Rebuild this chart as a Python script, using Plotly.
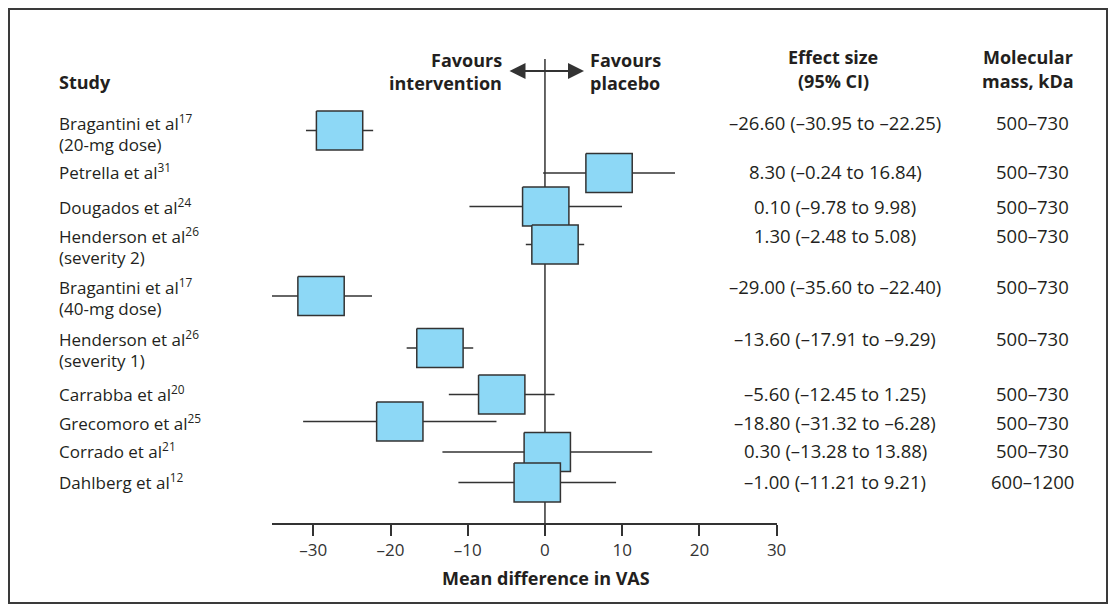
import plotly.graph_objects as go

# ---------------- data ----------------
studies = ["Bragantini et al", "Petrella et al", "Dougados et al", "Henderson et al",
           "Bragantini et al", "Henderson et al", "Carrabba et al", "Grecomoro et al",
           "Corrado et al", "Dahlberg et al"]
refs = ["17", "31", "24", "26", "17", "26", "20", "25", "21", "12"]
subgroups = ["(20-mg dose)", "", "", "(severity 2)", "(40-mg dose)", "(severity 1)",
             "", "", "", ""]
estimates = [-26.60, 8.30, 0.10, 1.30, -29.00, -13.60, -5.60, -18.80, 0.30, -1.00]
ci_low = [-30.95, -0.24, -9.78, -2.48, -35.60, -17.91, -12.45, -31.32, -13.28, -11.21]
ci_high = [-22.25, 16.84, 9.98, 5.08, -22.40, -9.29, 1.25, -6.28, 13.88, 9.21]
mol_mass = ["500–730"] * 9 + ["600–1200"]
tick_vals = [-30, -20, -10, 0, 10, 20, 30]
tick_text = ["–30", "–20", "–10", "0", "10", "20", "30"]

# ---------------- layout (page pixel coords; page body has an 8px margin) ----------------
OFF = 8
W, H = 1100, 596
L, R_PX, T, B_PX = 272, 777, 40, 523          # plot area in page pixels
PW, PH = R_PX - L, B_PX - T
text_rows = [122, 172, 206, 235.5, 286, 338, 393, 422, 451, 481]  # first text line
box_rows = [130.5, 173, 206.5, 244.5, 296, 348, 394.5, 421.5, 452, 482.5]
BOX_HALF_W = 3.0   # data units
BOX_HALF_H = 19.5  # px
LINE2_DY = 22

def pxx(x):
    return (x - L) / PW

def pxy(y):
    return (B_PX - y) / PH

TXT = "#231f20"
GRAY = "#333333"
FONT = "Open Sans"
BOX_FILL = "#8dd8f6"
REG = 17
NUM = 18.5
BOLD = 18

fig = go.Figure()

# CI lines + boxes, row by row so later rows sit on top
for i in range(len(estimates)):
    yc = box_rows[i]
    fig.add_trace(go.Scatter(
        x=[ci_low[i], ci_high[i]], y=[yc, yc], mode="lines",
        line=dict(color=GRAY, width=1.5), hoverinfo="skip", showlegend=False))
    e = estimates[i]
    fig.add_trace(go.Scatter(
        x=[e - BOX_HALF_W, e + BOX_HALF_W, e + BOX_HALF_W, e - BOX_HALF_W, e - BOX_HALF_W],
        y=[yc - BOX_HALF_H, yc - BOX_HALF_H, yc + BOX_HALF_H, yc + BOX_HALF_H, yc - BOX_HALF_H],
        mode="lines", fill="toself", fillcolor=BOX_FILL,
        line=dict(color=GRAY, width=1.5), hoverinfo="skip", showlegend=False))

shapes = [
    # zero line
    dict(type="line", xref="x", yref="y", x0=0, x1=0, y0=59, y1=B_PX,
         line=dict(color=GRAY, width=1.5), layer="below"),
    # outer frame
    dict(type="rect", xref="paper", yref="paper",
         x0=pxx(9), x1=pxx(1107), y0=pxy(603), y1=pxy(9),
         line=dict(color="#3a3a3a", width=2)),
]

ann = []

def txt(x, y, s, anchor="left", bold=False, size=None, color=TXT):
    if size is None:
        size = BOLD if bold else REG
    ann.append(dict(xref="paper", yref="paper", x=pxx(x), y=pxy(y), text=s,
                    showarrow=False, xanchor=anchor, yanchor="middle",
                    font=dict(family=FONT, size=size, color=color,
                              weight="bold" if bold else "normal")))

# headers
txt(57, 82, "Study", bold=True)
txt(504, 60, "Favours", anchor="right", bold=True)
txt(504, 83, "intervention", anchor="right", bold=True)
txt(588, 60, "Favours", anchor="left", bold=True)
txt(588, 83, "placebo", anchor="left", bold=True)
txt(833, 57, "Effect size", anchor="center", bold=True)
txt(833, 81, "(95% CI)", anchor="center", bold=True)
txt(1028, 57, "Molecular", anchor="center", bold=True)
txt(1028, 81, "mass, kDa", anchor="center", bold=True)

def fmt(v):
    return f"{v:.2f}".replace("-", "–")

for i in range(len(studies)):
    y = text_rows[i]
    txt(57, y, f"{studies[i]}<sup>{refs[i]}</sup>")
    if subgroups[i]:
        txt(57, y + LINE2_DY, subgroups[i])
    txt(835, y, f"{fmt(estimates[i])} ({fmt(ci_low[i])} to {fmt(ci_high[i])})",
        anchor="center", size=NUM)
    txt(1032, y, mol_mass[i], anchor="center", size=NUM)

# axis title
txt(546, 578, "Mean difference in VAS", anchor="center", bold=True)

# double-headed arrow
ann.append(dict(xref="paper", yref="paper", x=pxx(584), y=pxy(71),
                ax=-76, ay=0, axref="pixel", ayref="pixel",
                text="", showarrow=True, arrowhead=2, arrowside="end+start",
                arrowsize=1.6, arrowwidth=2, arrowcolor=GRAY, standoff=0, startstandoff=0))

fig.update_layout(
    width=W, height=H,
    margin=dict(l=L - OFF, r=W - (R_PX - OFF), t=T - OFF, b=H - (B_PX - OFF)),
    paper_bgcolor="white", plot_bgcolor="white",
    showlegend=False,
    shapes=shapes, annotations=ann,
    xaxis=dict(range=[-35.35, 30.05], tickvals=tick_vals, ticktext=tick_text,
               ticks="outside", ticklen=11, tickwidth=1.5, tickcolor=GRAY,
               showline=True, linecolor=GRAY, linewidth=1.5, showgrid=False,
               zeroline=False, tickfont=dict(family=FONT, size=REG, color=GRAY),
               fixedrange=True),
    yaxis=dict(range=[B_PX, T], visible=False, fixedrange=True),
)

fig.write_html("out.html", config={"displayModeBar": False})
